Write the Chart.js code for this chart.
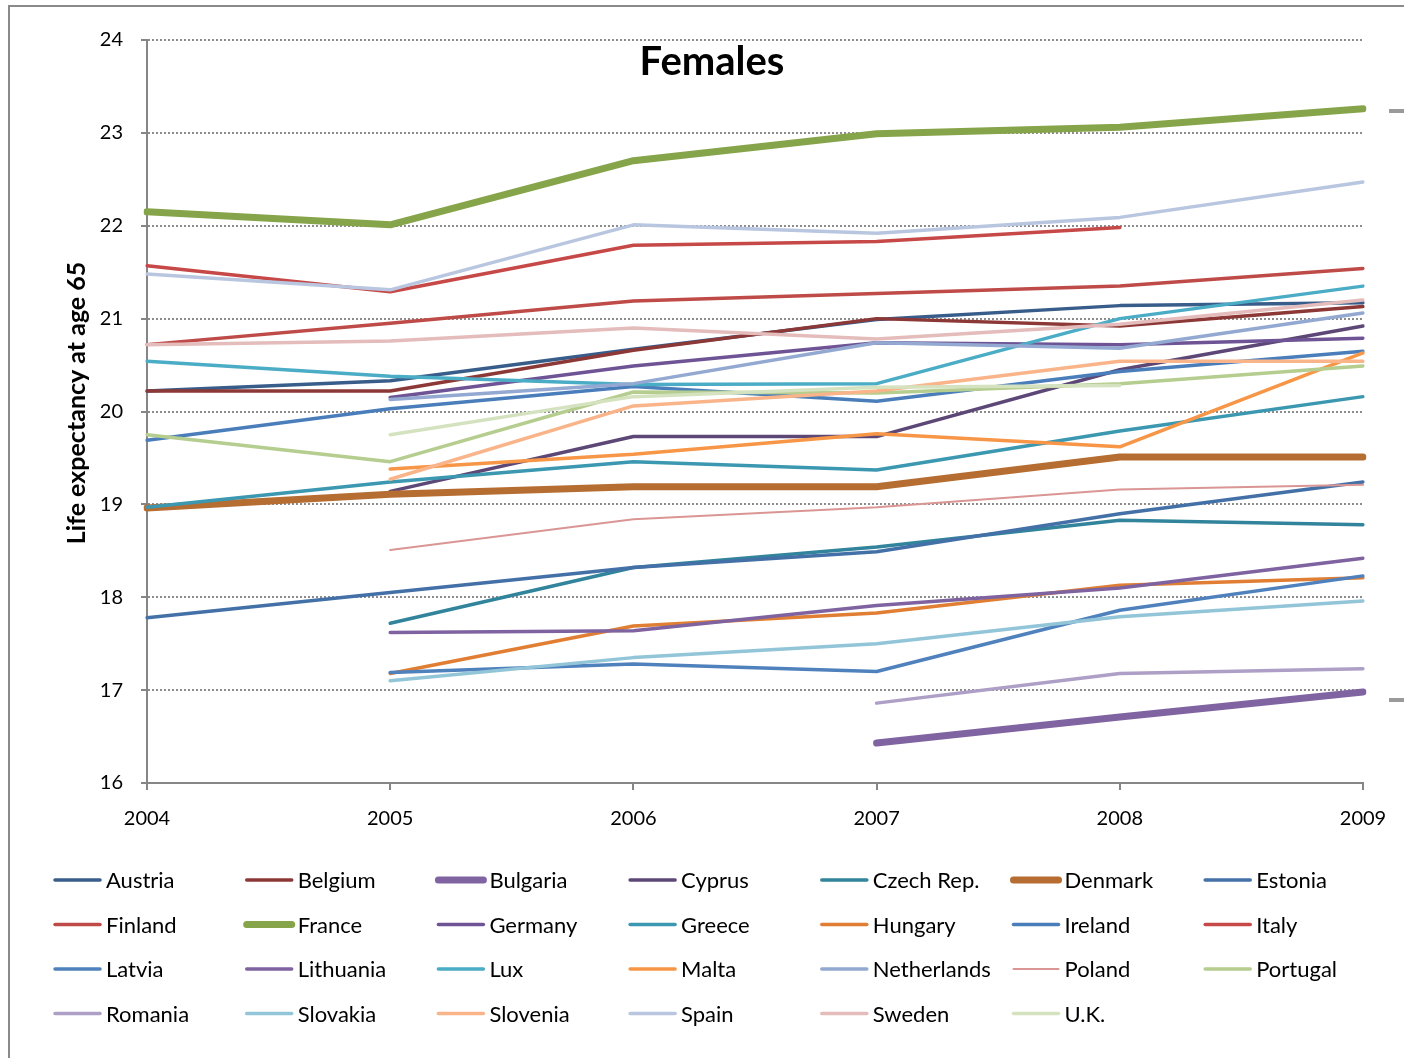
<!DOCTYPE html>
<html>
<head>
<meta charset="utf-8">
<script src="https://cdn.jsdelivr.net/npm/chart.js@4.4.1/dist/chart.umd.min.js"></script>
<style>
  html, body { margin: 0; padding: 0; background: #fff; }
  #wrap { width: 1404px; height: 1058px; }
</style>
</head>
<body>
<div id="wrap"><canvas id="lifeChart" width="1404" height="1058"></canvas></div>
<script>
// Years on the x axis
const years = ['2004', '2005', '2006', '2007', '2008', '2009'];

// Life expectancy at 65, females (null = no data)
const austria     = [20.22, 20.33, 20.67, 20.99, 21.14, 21.17];
const belgium     = [20.22, 20.22, 20.66, 21.00, 20.92, 21.13];
const bulgaria    = [null, null, null, 16.43, 16.71, 16.98];
const cyprus      = [null, 19.14, 19.73, 19.73, 20.45, 20.92];
const czechRep    = [null, 17.72, 18.32, 18.54, 18.83, 18.78];
const denmark     = [18.96, 19.11, 19.19, 19.19, 19.51, 19.51];
const estonia     = [17.78, 18.05, 18.32, 18.49, 18.90, 19.24];
const finland     = [20.72, 20.95, 21.19, 21.27, 21.35, 21.54];
const france      = [22.15, 22.01, 22.70, 22.99, 23.06, 23.26];
const germany     = [null, 20.15, 20.49, 20.74, 20.72, 20.79];
const greece      = [18.97, 19.24, 19.46, 19.37, 19.79, 20.16];
const hungary     = [null, 17.18, 17.69, 17.83, 18.13, 18.21];
const ireland     = [19.69, 20.03, 20.27, 20.11, 20.43, 20.65];
const italy       = [21.57, 21.29, 21.79, 21.83, 21.98, null];
const latvia      = [null, 17.19, 17.28, 17.20, 17.86, 18.23];
const lithuania   = [null, 17.62, 17.64, 17.91, 18.10, 18.42];
const lux         = [20.54, 20.38, 20.29, 20.30, 21.00, 21.35];
const malta       = [null, 19.38, 19.54, 19.76, 19.62, 20.63];
const netherlands = [null, 20.13, 20.30, 20.74, 20.68, 21.06];
const poland      = [null, 18.51, 18.84, 18.97, 19.16, 19.21];
const portugal    = [19.75, 19.46, 20.21, 20.20, 20.30, 20.49];
const romania     = [null, null, null, 16.86, 17.18, 17.23];
const slovakia    = [null, 17.10, 17.35, 17.50, 17.79, 17.96];
const slovenia    = [null, 19.27, 20.06, 20.22, 20.54, 20.54];
const spain       = [21.48, 21.31, 22.01, 21.92, 22.09, 22.47];
const sweden      = [20.72, 20.76, 20.90, 20.78, 20.94, 21.20];
const uk          = [null, 19.75, 20.16, 20.26, 20.28, null];

const countries = ['Austria', 'Belgium', 'Bulgaria', 'Cyprus', 'Czech Rep.', 'Denmark', 'Estonia',
    'Finland', 'France', 'Germany', 'Greece', 'Hungary', 'Ireland', 'Italy',
    'Latvia', 'Lithuania', 'Lux', 'Malta', 'Netherlands', 'Poland', 'Portugal',
    'Romania', 'Slovakia', 'Slovenia', 'Spain', 'Sweden', 'U.K.'];
const seriesValues = [austria, belgium, bulgaria, cyprus, czechRep, denmark, estonia,
    finland, france, germany, greece, hungary, ireland, italy,
    latvia, lithuania, lux, malta, netherlands, poland, portugal,
    romania, slovakia, slovenia, spain, sweden, uk];

// Styling
const lineColors = ['#385D8A', '#8C3836', '#8064A2', '#5C4776', '#31849B', '#B66D31', '#4470A8',
    '#BE4B48', '#86A44A', '#6E5494', '#3B98B0', '#E07E33', '#4A7EBB', '#C64847',
    '#4F81BD', '#7E63A0', '#4BACC6', '#F79646', '#93A9D2', '#D99694', '#B5CD8E',
    '#AD9FC6', '#92C5D8', '#F9B48A', '#B9C6E0', '#E4BCBB', '#D4E2BF'];
const thick = ['Bulgaria', 'Denmark', 'France'];
const thin = ['Poland'];
const widthFor = name => thick.includes(name) ? 7 : (thin.includes(name) ? 2 : 3.5);

const axisGray = '#868686';
const fontFamily = "Lato, 'Open Sans', sans-serif";

const datasets = countries.map((name, i) => ({
    label: name,
    data: seriesValues[i],
    borderColor: lineColors[i],
    backgroundColor: lineColors[i],
    borderWidth: widthFor(name),
    borderCapStyle: 'round',
    borderJoinStyle: 'round',
    pointRadius: 0,
    tension: 0,
    fill: false,
    order: countries.length - i // later series drawn on top
}));

// Frame, title, axis title and legend drawn by hand
const decor = {
    id: 'decor',
    beforeDraw(chart) {
        const ctx = chart.ctx;
        ctx.save();
        ctx.strokeStyle = '#8a8a8a';
        ctx.lineWidth = 2;
        ctx.beginPath();
        ctx.moveTo(9, 1058);
        ctx.lineTo(9, 6);
        ctx.lineTo(1404, 6);
        ctx.stroke();
        ctx.strokeStyle = '#9a9a9a';
        ctx.lineWidth = 4;
        ctx.beginPath();
        ctx.moveTo(1389, 111); ctx.lineTo(1404, 111);
        ctx.moveTo(1389, 700); ctx.lineTo(1404, 700);
        ctx.stroke();
        ctx.restore();
    },
    afterDraw(chart) {
        const ctx = chart.ctx;
        ctx.save();
        // chart title
        ctx.fillStyle = '#000';
        ctx.font = `bold 40px ${fontFamily}`;
        ctx.textAlign = 'center';
        ctx.textBaseline = 'middle';
        ctx.fillText('Females', 712, 62);
        // y axis title
        ctx.save();
        ctx.translate(77, 403);
        ctx.rotate(-Math.PI / 2);
        ctx.font = `bold 25px ${fontFamily}`;
        ctx.fillText('Life expectancy at age 65', 0, 0);
        ctx.restore();
        // legend
        ctx.font = `22px ${fontFamily}`;
        ctx.textAlign = 'left';
        chart.data.datasets.forEach((ds, i) => {
            const col = i % 7;
            const row = Math.floor(i / 7);
            const x = 55 + col * 191.7;
            const y = 880 + row * 44.5;
            ctx.strokeStyle = ds.borderColor;
            ctx.lineWidth = ds.borderWidth;
            ctx.lineCap = 'round';
            ctx.beginPath();
            ctx.moveTo(x, y);
            ctx.lineTo(x + 45, y);
            ctx.stroke();
            ctx.fillStyle = '#000';
            ctx.fillText(ds.label, x + 51, y + 1);
        });
        ctx.restore();
    }
};

new Chart(document.getElementById('lifeChart').getContext('2d'), {
    type: 'line',
    data: { labels: years, datasets },
    options: {
        responsive: false,
        animation: false,
        layout: { padding: { top: 40, right: 41, left: 0, bottom: 0 } },
        plugins: {
            legend: { display: false },
            tooltip: { enabled: false }
        },
        scales: {
            x: {
                offset: false,
                grid: { drawOnChartArea: false, drawTicks: true, tickLength: 7, color: axisGray, lineWidth: 2 },
                border: { color: axisGray, width: 2 },
                ticks: { color: '#000', font: { family: fontFamily, size: 20 }, padding: 17, maxRotation: 0 },
                afterFit(scale) { scale.height = 275; }
            },
            y: {
                min: 16,
                max: 24,
                ticks: { stepSize: 1, color: '#000', font: { family: fontFamily, size: 20 }, padding: 18 },
                grid: { color: '#8c8c8c', lineWidth: 2, tickLength: 6, tickColor: axisGray, tickBorderDash: [] },
                border: { color: axisGray, width: 2, dash: [2, 2] },
                afterFit(scale) { scale.width = 147; }
            }
        }
    },
    plugins: [decor]
});
</script>
</body>
</html>
